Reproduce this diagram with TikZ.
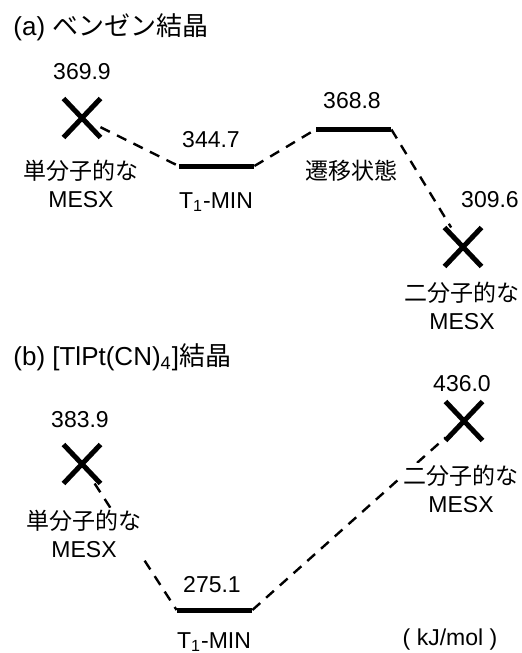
\documentclass[tikz,border=0pt]{standalone}
\usepackage{fontspec}
\setmainfont{Liberation Sans}
\newfontfamily\jpfont{Noto Sans CJK JP}
\usetikzlibrary{shapes.misc}

\begin{document}
\begin{tikzpicture}[x=0.5pt,y=-0.5pt,
  level/.style={fill=black,inner sep=0pt,minimum width=37.5pt,minimum height=2.5pt},
  mesx/.style={cross out,draw,line width=2.5pt,inner sep=0pt,minimum width=16pt,minimum height=17pt},
  route/.style={line width=1.2pt,dash pattern=on 5.2pt off 4pt},
  lbl/.style={font=\fontsize{11.5}{14}\selectfont,align=center,fill=white,inner sep=1pt},
  ttl/.style={font=\fontsize{13}{15}\selectfont,anchor=west,inner sep=0pt}]
\useasboundingbox (0,0) rectangle (522,653);
% (a) benzene crystal
\node[ttl] (ta) at (13,27) {(a) {\jpfont ベンゼン結晶}};
\node[mesx] (xa1) at (82,118) {};
\node[level] (t1a) at (216.5,166) {};
\node[level] (tsa) at (353.5,129.5) {};
\node[mesx] (xa2) at (463,247) {};
\draw[route] (xa1) -- (t1a.west);
\draw[route] (t1a.east) -- (tsa.west);
\draw[route] (tsa.east) -- (xa2);
\node[lbl] (ea1) at (82,72) {369.9};
\node[lbl] (na1) at (81,184) {{\jpfont 単分子的な}\\MESX};
\node[lbl] (ea2) at (211,140) {344.7};
\node[lbl,anchor=base] (na2) at (216,208) {T\textsubscript{1}-MIN};
\node[lbl] (ea3) at (352,101) {368.8};
\node[lbl] (na3) at (351,171) {\jpfont 遷移状態};
\node[lbl] (ea4) at (490,200) {309.6};
\node[lbl] (na4) at (462,306) {{\jpfont 二分子的な}\\MESX};
% (b) [TlPt(CN)4] crystal
\node[ttl] (tb) at (13,357) {(b) [TlPt(CN)\textsubscript{4}]{\jpfont 結晶}};
\node[mesx] (xb1) at (82,464) {};
\node[level] (t1b) at (214.5,610) {};
\node[mesx] (xb2) at (464,421) {};
\draw[route] (xb1) -- (t1b.west);
\draw[route] (t1b.east) -- (xb2);
\node[lbl] (eb1) at (80,420) {383.9};
\node[lbl] (nb1) at (84,534) {{\jpfont 単分子的な}\\MESX};
\node[lbl] (eb2) at (212,585) {275.1};
\node[lbl,anchor=base] (nb2) at (214,648) {T\textsubscript{1}-MIN};
\node[lbl] (eb3) at (462,384) {436.0};
\node[lbl] (nb3) at (461,489) {{\jpfont 二分子的な}\\MESX};
\node[lbl] (unit) at (450,640) {( kJ/mol )};
\end{tikzpicture}
\end{document}
